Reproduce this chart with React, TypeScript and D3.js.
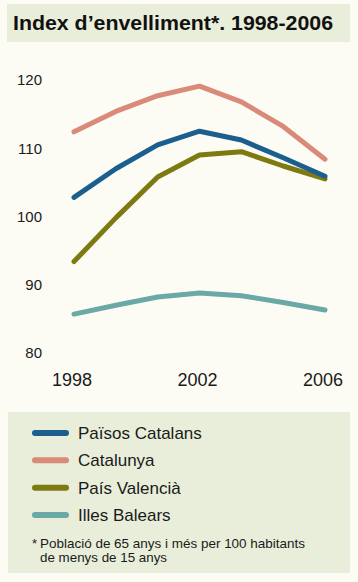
import React, { useEffect, useRef } from "react";
import * as d3 from "d3";

const WIDTH = 358;
const HEIGHT = 582;

// 7 punts equiespaiats entre 1998 i 2006
const points: number[] = [0, 1, 2, 3, 4, 5, 6];
const tickLabels: { i: number; label: string }[] = [
  { i: 0, label: "1998" },
  { i: 3, label: "2002" },
  { i: 6, label: "2006" },
];
const yTicks: number[] = [80, 90, 100, 110, 120];

const paisosCatalans: number[] = [102.8, 107.0, 110.5, 112.5, 111.2, 108.6, 105.9];
const catalunya: number[] = [112.4, 115.4, 117.7, 119.1, 116.8, 113.2, 108.4];
const paisValencia: number[] = [93.4, 99.8, 105.8, 109.0, 109.5, 107.4, 105.5];
const illesBalears: number[] = [85.7, 87.0, 88.2, 88.8, 88.4, 87.4, 86.3];

const seriesNames: string[] = ["Països Catalans", "Catalunya", "País Valencià", "Illes Balears"];
const seriesColors: string[] = ["#1b5f8e", "#d98a78", "#7d7a12", "#6aa9a5"];

const App: React.FC = () => {
  const ref = useRef<SVGSVGElement | null>(null);

  useEffect(() => {
    if (!ref.current) return;
    const svg = d3.select(ref.current).attr("width", WIDTH).attr("height", HEIGHT);
    svg.selectAll("*").remove();

    const font = "'Liberation Sans', Arial, sans-serif";

    svg.append("rect").attr("width", WIDTH).attr("height", HEIGHT).attr("fill", "#fcfcf5");

    // títol
    svg.append("rect").attr("x", 7).attr("y", 4).attr("width", 343).attr("height", 38).attr("fill", "#e8eed9");
    svg
      .append("text")
      .attr("x", 13)
      .attr("y", 30)
      .attr("textLength", 320)
      .attr("lengthAdjust", "spacingAndGlyphs")
      .style("font-family", font)
      .style("font-weight", "bold")
      .style("font-size", "20px")
      .attr("fill", "#111")
      .text("Index d\u2019envelliment*. 1998-2006");

    const x = d3.scalePoint<number>().domain(points).range([74, 325]);
    const y = d3.scaleLinear().domain([80, 120]).range([353, 80]);

    // eix Y
    svg
      .append("g")
      .selectAll("text")
      .data(yTicks)
      .enter()
      .append("text")
      .attr("x", 42)
      .attr("y", (d) => y(d))
      .attr("dy", "0.36em")
      .attr("text-anchor", "end")
      .style("font-family", font)
      .style("font-size", "15px")
      .attr("fill", "#1a1a1a")
      .text((d) => d);

    // eix X
    svg
      .append("g")
      .selectAll("text")
      .data(tickLabels)
      .enter()
      .append("text")
      .attr("x", (d) => (x(d.i) || 0) - 2)
      .attr("y", 380)
      .attr("dy", "0.36em")
      .attr("text-anchor", "middle")
      .style("font-family", font)
      .style("font-size", "18px")
      .attr("fill", "#1a1a1a")
      .text((d) => d.label);

    const line = d3
      .line<number>()
      .x((_, i) => x(points[i]) || 0)
      .y((d) => y(d));

    const allSeries = [illesBalears, paisValencia, paisosCatalans, catalunya];
    const allColors = [seriesColors[3], seriesColors[2], seriesColors[0], seriesColors[1]];
    allSeries.forEach((s, k) => {
      svg
        .append("path")
        .datum(s)
        .attr("d", line)
        .attr("fill", "none")
        .attr("stroke", allColors[k])
        .attr("stroke-width", 5)
        .attr("stroke-linecap", "round")
        .attr("stroke-linejoin", "round");
    });

    // llegenda
    svg.append("rect").attr("x", 8).attr("y", 412).attr("width", 342).attr("height", 161).attr("fill", "#e8eed9");
    const legendY = d3.scalePoint<string>().domain(seriesNames).range([433, 515]);
    const lg = svg.append("g").selectAll("g").data(seriesNames).enter().append("g");
    lg.append("line")
      .attr("x1", 35)
      .attr("x2", 66)
      .attr("y1", (d) => legendY(d) || 0)
      .attr("y2", (d) => legendY(d) || 0)
      .attr("stroke", (_, i) => seriesColors[i])
      .attr("stroke-width", 6)
      .attr("stroke-linecap", "round");
    lg.append("text")
      .attr("x", 78)
      .attr("y", (d) => legendY(d) || 0)
      .attr("dy", "0.36em")
      .style("font-family", font)
      .style("font-size", "17px")
      .attr("fill", "#1a1a1a")
      .text((d) => d);

    const foot = svg
      .append("g")
      .style("font-family", font)
      .style("font-size", "13px")
      .attr("fill", "#1a1a1a");
    foot.append("text").attr("x", 32).attr("y", 548).text("*");
    foot.append("text").attr("x", 40).attr("y", 548).attr("textLength", 265).attr("lengthAdjust", "spacingAndGlyphs").text("Població de 65 anys i més per 100 habitants");
    foot.append("text").attr("x", 40).attr("y", 562).attr("textLength", 127).attr("lengthAdjust", "spacingAndGlyphs").text("de menys de 15 anys");
  }, []);

  return <svg ref={ref} style={{ position: "absolute", left: 0, top: 0 }} />;
};

export default App;
